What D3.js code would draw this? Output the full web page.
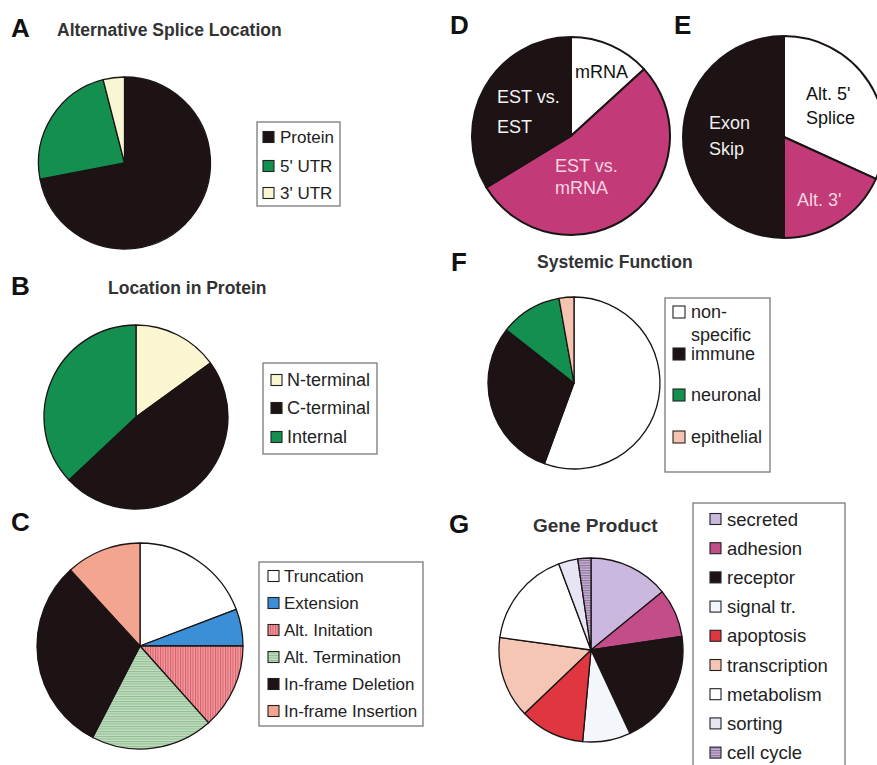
<!DOCTYPE html>
<html>
<head>
<meta charset="utf-8">
<script src="https://cdn.jsdelivr.net/npm/d3@7"></script>
<style>
  body { margin: 0; background: #fff; }
  svg { display: block; font-family: "Liberation Sans", Arial, Helvetica, sans-serif; }
</style>
</head>
<body>
<svg width="877" height="765"></svg>
<script>
// A - alternative splice location (% of cases)
const spliceLoc = ["Protein", "5' UTR", "3' UTR"];
const spliceLocPct = [72, 24, 4];

// B - location in protein
const protLoc = ["N-terminal", "C-terminal", "Internal"];
const protLocPct = [15, 48, 37];

// C - type of change
const changeType = ["Truncation", "Extension", "Alt. Initation", "Alt. Termination", "In-frame Deletion", "In-frame Insertion"];
const changePct = [19.2, 5.8, 13.4, 19.2, 30.6, 11.8];

// D - evidence
const evidence = ["mRNA", "EST vs. mRNA", "EST vs. EST"];
const evidencePct = [13.2, 53.1, 33.7];

// E - splice type
const spliceType = ["Alt. 5' Splice", "Alt. 3'", "Exon Skip"];
const spliceTypePct = [31.8, 18.2, 50];

// F - systemic function
const sysFunc = ["non-specific", "immune", "neuronal", "epithelial"];
const sysFuncPct = [55.6, 30, 11.6, 2.8];

// G - gene product
const product = ["secreted", "adhesion", "receptor", "signal tr.", "apoptosis", "transcription", "metabolism", "sorting", "cell cycle"];
const productPct = [14.1, 8.5, 20.4, 8.4, 11.4, 14.3, 17.1, 3.4, 2.3];

const BLACK = "#1d1214", GREEN = "#138f50", CREAM = "#fbf6d2", MAGENTA = "#c23b78";

const svg = d3.select("svg");
const defs = svg.append("defs");

// striped fills used for a few slices
function stripes(id, base, line, vertical) {
  const p = defs.append("pattern").attr("id", id)
    .attr("patternUnits", "userSpaceOnUse").attr("width", 2.5).attr("height", 2.5);
  p.append("rect").attr("width", 2.5).attr("height", 2.5).attr("fill", base);
  p.append("rect")
    .attr("width", vertical ? 1 : 2.5)
    .attr("height", vertical ? 2.5 : 1)
    .attr("fill", line);
}
stripes("altInit", "#f09ba0", "#d95d68", true);
stripes("altTerm", "#c2ddbf", "#8fbd92", false);
stripes("cellCyc", "#c4b0d6", "#8d6f98", false);

const colA = d3.scaleOrdinal().domain(spliceLoc).range([BLACK, GREEN, CREAM]);
const colB = d3.scaleOrdinal().domain(protLoc).range([CREAM, BLACK, GREEN]);
const colC = d3.scaleOrdinal().domain(changeType)
  .range(["#ffffff", "#3b8fd6", "url(#altInit)", "url(#altTerm)", BLACK, "#f3a590"]);
const colD = d3.scaleOrdinal().domain(evidence).range(["#ffffff", MAGENTA, BLACK]);
const colE = d3.scaleOrdinal().domain(spliceType).range(["#ffffff", MAGENTA, BLACK]);
const colF = d3.scaleOrdinal().domain(sysFunc).range(["#ffffff", BLACK, GREEN, "#f6c3b0"]);
const colG = d3.scaleOrdinal().domain(product)
  .range(["#cbb8de", "#c24d88", BLACK, "#f3f7fc", "#e0363f", "#f6c6b4", "#ffffff", "#e6e5f3", "url(#cellCyc)"]);

function drawPie(cx, cy, r, labels, values, color, sw) {
  const g = svg.append("g").attr("transform", `translate(${cx},${cy})`);
  const arcs = d3.pie().sort(null)(values);
  const arc = d3.arc().innerRadius(0).outerRadius(r);
  g.selectAll("path")
    .data(arcs)
    .join("path")
    .attr("d", arc)
    .attr("fill", (d, i) => color(labels[i]))
    .attr("stroke", "#1a1414")
    .attr("stroke-width", sw)
    .attr("stroke-linejoin", "round");
  return g;
}

// legend box with one swatch per label
function legend(x, y, w, h, labels, color, ys, opts) {
  const g = svg.append("g");
  g.append("rect").attr("x", x).attr("y", y).attr("width", w).attr("height", h)
    .attr("fill", "#fff").attr("stroke", "#7a7a7a").attr("stroke-width", 1.3);
  labels.forEach((lab, i) => {
    const yy = ys[i];
    g.append("rect")
      .attr("x", opts.sx).attr("y", yy - opts.ss / 2)
      .attr("width", opts.ss).attr("height", opts.ss)
      .attr("fill", color(lab)).attr("stroke", "#222").attr("stroke-width", 1.1);
    const lines = opts.split && opts.split[lab] ? opts.split[lab] : [lab];
    lines.forEach((t, j) => {
      g.append("text")
        .attr("x", opts.tx).attr("y", yy + j * (opts.lineGap || 0))
        .attr("dy", "0.36em")
        .attr("font-size", opts.fs)
        .attr("fill", "#222")
        .text(t);
    });
  });
}

function panelLetter(x, y, t) {
  svg.append("text").attr("x", x).attr("y", y).attr("font-size", 26)
    .attr("font-weight", "bold").attr("fill", "#111").text(t);
}
function title(x, y, t, fs) {
  svg.append("text").attr("x", x).attr("y", y).attr("font-size", fs)
    .attr("font-weight", "bold").attr("fill", "#333").text(t);
}

// ---- A
panelLetter(11, 37, "A");
title(57, 36, "Alternative Splice Location", 17.5);
drawPie(124.5, 163, 86, spliceLoc, spliceLocPct, colA, 1.3);
legend(257, 122, 83, 84, spliceLoc, colA, [137, 166, 193],
  { sx: 263, ss: 11, tx: 280, fs: 17 });

// ---- B
panelLetter(11, 295, "B");
title(108, 294, "Location in Protein", 17.5);
drawPie(136, 417, 92, protLoc, protLocPct, colB, 1.3);
legend(263, 363, 114, 91, protLoc, colB, [380, 408, 437],
  { sx: 271, ss: 11, tx: 287, fs: 18 });

// ---- C
panelLetter(11, 531, "C");
drawPie(140, 646, 103, changeType, changePct, colC, 1.3);
legend(259, 562, 164, 164, changeType, colC, [576, 603, 630, 657, 684, 711],
  { sx: 268, ss: 11, tx: 284, fs: 17 });

// ---- D
panelLetter(450, 34, "D");
const gD = drawPie(571, 136, 99, evidence, evidencePct, colD, 2);
[["mRNA", 4, -64, "#111"], ["EST vs.", -74, -39, "#f2f2f2"], ["EST", -74, -9, "#f2f2f2"],
 ["EST vs.", -16, 30, "#f7d4e0"], ["mRNA", -16, 52, "#f7d4e0"]].forEach(([t, x, y, c]) => {
  gD.append("text").attr("x", x).attr("y", y).attr("dy", "0.36em")
    .attr("font-size", 18).attr("fill", c).text(t);
});

// ---- E
panelLetter(674, 34, "E");
const gE = drawPie(784, 137, 101, spliceType, spliceTypePct, colE, 2);
[["Alt. 5'", 22, -43, "#111"], ["Splice", 22, -19, "#111"], ["Exon", -75, -14, "#eeeeee"],
 ["Skip", -75, 12, "#eeeeee"], ["Alt. 3'", 13, 63, "#f7d4e0"]].forEach(([t, x, y, c]) => {
  gE.append("text").attr("x", x).attr("y", y).attr("dy", "0.36em")
    .attr("font-size", 18).attr("fill", c).text(t);
});

// ---- F
panelLetter(451, 271, "F");
title(537, 268, "Systemic Function", 17.5);
drawPie(574, 383, 86, sysFunc, sysFuncPct, colF, 1.3);
legend(665, 298, 105, 174, sysFunc, colF, [312, 354, 395, 437],
  { sx: 673, ss: 12, tx: 691, fs: 18, lineGap: 23,
    split: { "non-specific": ["non-", "specific"] } });

// ---- G
panelLetter(449, 533, "G");
title(533, 532, "Gene Product", 19);
drawPie(591, 650, 92, product, productPct, colG, 1.3);
legend(693, 503, 152, 280, product, colG, product.map((d, i) => 519 + i * 29.2),
  { sx: 710, ss: 11, tx: 727, fs: 18.5 });
</script>
</body>
</html>
